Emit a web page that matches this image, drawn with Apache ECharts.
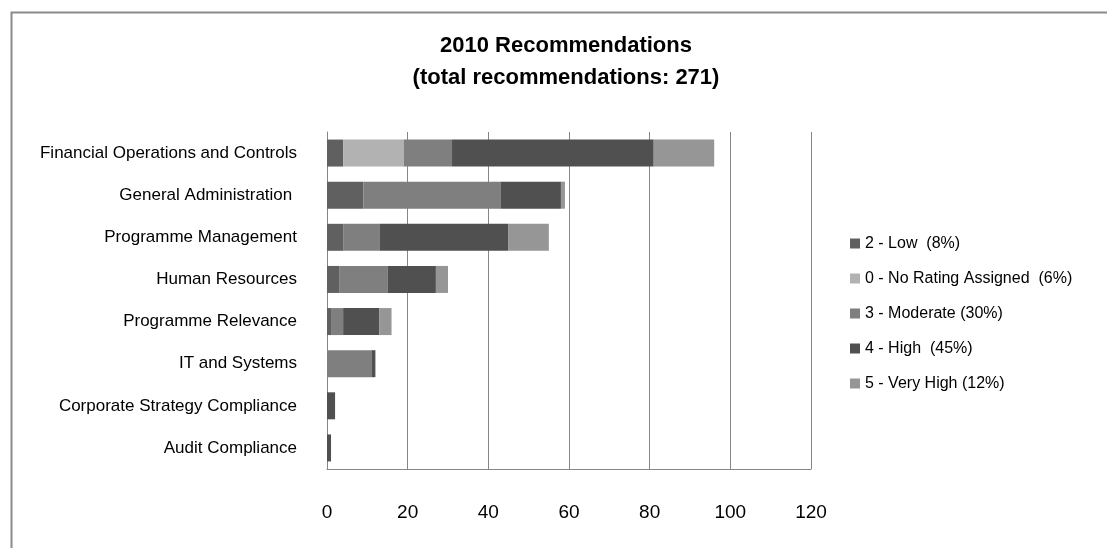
<!DOCTYPE html>
<html>
<head>
<meta charset="utf-8">
<script src="https://cdn.jsdelivr.net/npm/echarts@6/dist/echarts.min.js"></script>
<style>
  html, body { margin: 0; padding: 0; background: #fff; }
  #chart { width: 1107px; height: 548px; }
</style>
</head>
<body>
<div id="chart"></div>
<script>
// Recommendation areas, top to bottom
const categories = [
  'Financial Operations and Controls',
  'General Administration ',
  'Programme Management',
  'Human Resources',
  'Programme Relevance',
  'IT and Systems',
  'Corporate Strategy Compliance',
  'Audit Compliance'
];

// Number of recommendations per rating, one entry per area
const lowValues       = [4, 9, 4, 3, 1, 0, 0, 0];
const noRatingValues  = [15, 0, 0, 0, 0, 0, 0, 0];
const moderateValues  = [12, 34, 9, 12, 3, 11, 0, 0];
const highValues      = [50, 15, 32, 12, 9, 1, 2, 1];
const veryHighValues  = [15, 1, 10, 3, 3, 0, 0, 0];

const seriesNames = [
  '2 - Low  (8%)',
  '0 - No Rating Assigned  (6%)',
  '3 - Moderate (30%)',
  '4 - High  (45%)',
  '5 - Very High (12%)'
];
const seriesColors = ['#606060', '#b2b2b2', '#7f7f7f', '#505050', '#969696'];
const seriesValues = [lowValues, noRatingValues, moderateValues, highValues, veryHighValues];

const xTicks = [0, 20, 40, 60, 80, 100, 120];

const FONT = "'Liberation Sans', sans-serif";

const chart = echarts.init(document.getElementById('chart'), null, { renderer: 'canvas' });

chart.setOption({
  animation: false,
  backgroundColor: '#ffffff',
  textStyle: { fontFamily: FONT },
  graphic: [{
    type: 'rect',
    left: 9, top: 10,
    shape: { width: 1200, height: 600 },
    style: { fill: 'none', stroke: '#8a8a8a', lineWidth: 2 },
    silent: true
  }],
  title: {
    text: '2010 Recommendations\n(total recommendations: 271)',
    left: 566,
    top: 30,
    textAlign: 'center',
    padding: 0,
    textStyle: {
      fontFamily: FONT,
      fontSize: 22,
      fontWeight: 'bold',
      color: '#000',
      lineHeight: 32
    }
  },
  legend: {
    orient: 'vertical',
    left: 850,
    top: 235,
    icon: 'rect',
    itemWidth: 10,
    itemHeight: 10,
    itemGap: 18,
    itemStyle: { borderWidth: 0 },
    padding: 0,
    data: seriesNames,
    textStyle: { fontFamily: FONT, fontSize: 16, color: '#000', lineHeight: 17 }
  },
  grid: {
    left: 327,
    right: 296,
    top: 132,
    bottom: 79,
    containLabel: false
  },
  xAxis: {
    type: 'value',
    min: xTicks[0],
    max: xTicks[xTicks.length - 1],
    interval: 20,
    axisLine: { show: true, lineStyle: { color: '#868686', width: 1 } },
    axisTick: { show: false },
    splitLine: { show: true, lineStyle: { color: '#868686', width: 1 } },
    axisLabel: {
      margin: 34,
      fontFamily: FONT,
      fontSize: 19,
      color: '#000'
    }
  },
  yAxis: {
    type: 'category',
    inverse: true,
    data: categories,
    axisLine: { show: true, lineStyle: { color: '#868686', width: 1 } },
    axisTick: { show: false },
    axisLabel: {
      margin: 30,
      fontFamily: FONT,
      fontSize: 17,
      color: '#000'
    }
  },
  series: seriesNames.map((name, i) => ({
    name: name,
    type: 'bar',
    stack: 'total',
    barWidth: 27,
    itemStyle: { color: seriesColors[i] },
    data: seriesValues[i]
  }))
});
</script>
</body>
</html>
